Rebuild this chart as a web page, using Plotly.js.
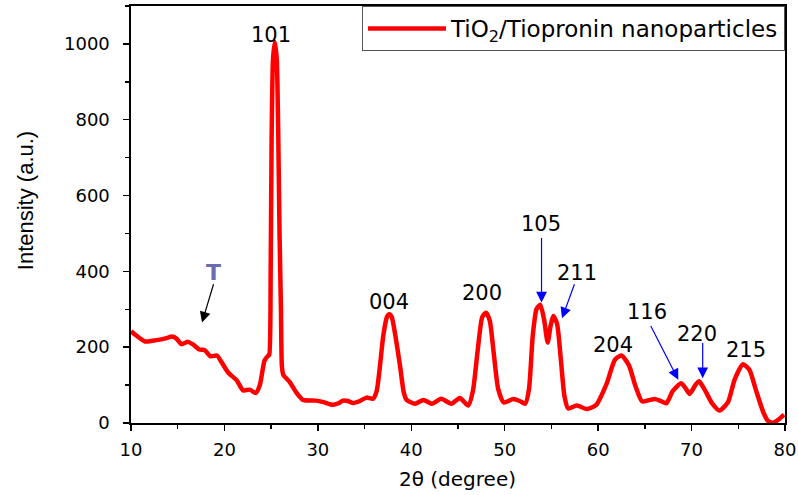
<!DOCTYPE html>
<html>
<head>
<meta charset="utf-8">
<script src="https://cdn.plot.ly/plotly-3.0.1.min.js"></script>
<style>html,body{margin:0;padding:0;background:#fff;}#chart{width:798px;height:495px;}</style>
</head>
<body>
<div id="chart"></div>
<script>
// 2θ (degree)
const twoTheta = [10.0,10.6,11.5,12.3,13.1,13.8,14.4,14.9,15.4,16.1,16.7,17.3,17.9,18.5,19.2,19.7,20.4,21.3,22.0,22.7,23.35,23.8,24.3,24.7,
  24.8,24.95,25.05,25.2,25.4,25.6,25.75,25.9,26.05,26.15,26.3,27.0,27.7,28.4,29.8,30.6,31.6,32.2,32.7,33.2,33.8,34.5,35.2,35.9,
  36.3,36.6,37.0,37.4,37.65,37.9,38.3,38.8,39.2,39.5,40.4,41.3,42.2,43.2,44.3,45.2,46.1,
  46.6,47.1,47.6,48.0,48.4,48.8,49.3,49.9,50.9,51.6,52.2,
  52.6,53.0,53.4,53.8,54.2,54.6,54.9,55.2,55.6,56.0,56.4,56.8,57.7,58.8,59.8,
  60.9,61.8,62.5,63.3,64.0,64.7,65.4,66.1,66.7,67.3,68.0,68.9,69.4,69.8,70.4,70.8,71.4,72.2,73.0,73.9,74.6,75.5,76.2,76.9,77.7,78.2,78.7,79.3,79.9];
// Intensity (a.u.)
const intensity = [242,230,215,217,220,224,228,222,208,214,206,194,192,176,178,160,133,113,86,88,79,101,165,178,
  180,400,750,960,1005,960,780,500,300,150,127,108,80,61,59,55,48,52,59,58,53,58,67,64,
  85,140,230,280,287,280,230,150,80,61,51,61,51,64,51,66,46,
  85,190,280,291,270,190,90,54,63,58,51,
  90,230,300,312,275,212,255,282,262,170,70,38,46,37,48,
  103,167,178,152,97,57,60,63,58,52,85,105,90,77,100,110,88,52,33,55,114,155,140,86,27,5,1,9,22];

const seriesName = 'TiO<sub>2</sub>/Tiopronin nanoparticles';

// Peak labels (hkl)
const peakLabels = ['101','004','200','105','211','204','116','220','215'];
const peakLabelX = [24.98,37.61,47.53,53.92,57.70,61.54,65.28,70.60,75.84];
const peakLabelY = [1024,318,344,526,397,207,292,236,193];

// Arrows: tail (ax, ay) -> head (x, y)
const arrowTailX = [53.94,57.52,65.55,71.19];
const arrowTailY = [492,370,260,215];
const arrowHeadX = [53.94,56.13,68.58,71.19];
const arrowHeadY = [318,276,114,118];

// "T" marker
const tLabel = {text:'T', x:18.78, y:397};
const tArrow = {ax:18.88, ay:370, x:17.60, y:265};

const FONT = 'DejaVu Sans, Arial, sans-serif';

const annotations = [];
peakLabels.forEach((t,i)=>{
  annotations.push({x:peakLabelX[i], y:peakLabelY[i], xref:'x', yref:'y', text:t, showarrow:false,
    font:{family:FONT, size:21, color:'#000'}});
});
arrowHeadX.forEach((hx,i)=>{
  annotations.push({x:hx, y:arrowHeadY[i], ax:arrowTailX[i], ay:arrowTailY[i], xref:'x', yref:'y', axref:'x', ayref:'y',
    text:'', showarrow:true, arrowhead:2, arrowsize:1.8, arrowwidth:1.2, arrowcolor:'#0000ff', standoff:0, startstandoff:0});
});
annotations.push({x:tLabel.x, y:tLabel.y, xref:'x', yref:'y', text:'<b>'+tLabel.text+'</b>', showarrow:false,
  font:{family:FONT, size:22, color:'#6b6bb0'}});
annotations.push({x:tArrow.x, y:tArrow.y, ax:tArrow.ax, ay:tArrow.ay, xref:'x', yref:'y', axref:'x', ayref:'y',
  text:'', showarrow:true, arrowhead:2, arrowsize:1.8, arrowwidth:1.2, arrowcolor:'#000', standoff:0, startstandoff:0});
// axis titles
annotations.push({xref:'paper', yref:'paper', x:-0.162, y:0.532, xanchor:'center', yanchor:'middle', text:'Intensity (a.u.)', textangle:-90, showarrow:false,
  font:{family:'Liberation Sans, Arial, sans-serif', size:22, color:'#000'}});
annotations.push({xref:'paper', yref:'paper', x:0.4985, y:-0.134, xanchor:'center', yanchor:'middle', text:'2θ (degree)', showarrow:false,
  font:{family:FONT, size:20, color:'#000'}});

const trace = {
  x: twoTheta, y: intensity, type:'scatter', mode:'lines', name: seriesName,
  line:{color:'#ff0000', width:4.5, shape:'spline', smoothing:0.6},
  cliponaxis:true
};

const axisCommon = {
  showgrid:false, zeroline:false, showline:true, linecolor:'#000', linewidth:1.6, mirror:true,
  ticks:'outside', ticklen:6, tickwidth:1.5, tickcolor:'#000',
  tickfont:{family:FONT, size:18, color:'#000'}
};

const layout = {
  width:798, height:495,
  margin:{l:131, r:13, t:6, b:72, pad:0},
  paper_bgcolor:'#fff', plot_bgcolor:'#fff',
  xaxis: Object.assign({}, axisCommon, {range:[10,80], tick0:10, dtick:10, ticklabelstandoff:4,
    minor:{dtick:5, ticks:'outside', ticklen:4, tickwidth:1.5, tickcolor:'#000'}}),
  yaxis: Object.assign({}, axisCommon, {range:[0,1100], tick0:0, dtick:200, ticklabelstandoff:10,
    minor:{dtick:100, ticks:'outside', ticklen:4, tickwidth:1.5, tickcolor:'#000'}}),
  showlegend:true,
  legend:{x:1, xanchor:'right', y:1, yanchor:'top', bgcolor:'#fff', bordercolor:'#555', borderwidth:1,
    font:{family:FONT, size:23, color:'#000'}, tracegroupgap:0, itemwidth:78},
  annotations: annotations
};

Plotly.newPlot('chart', [trace], layout, {displayModeBar:false, staticPlot:true});
</script>
</body>
</html>
